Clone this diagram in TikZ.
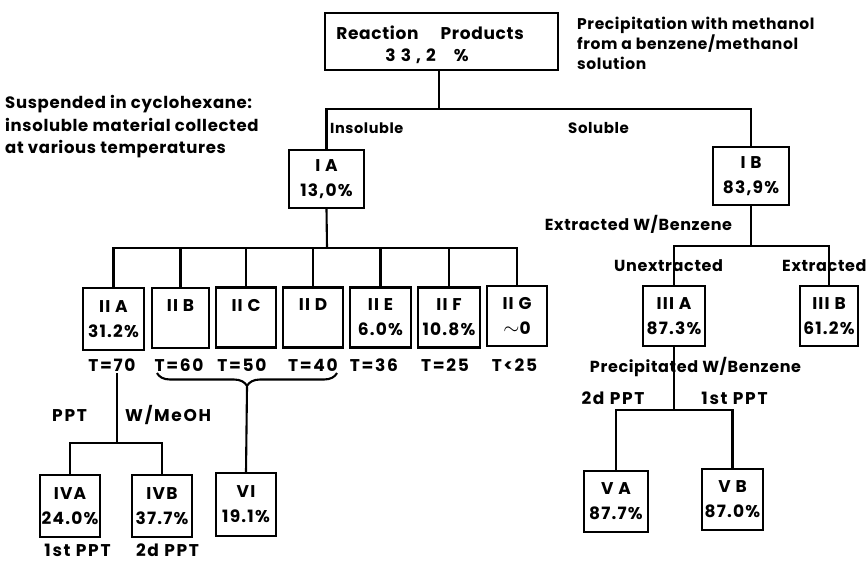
\documentclass[tikz,border=0pt]{standalone}
\usepackage{fontspec}
\setmainfont{Poppins}[LetterSpace=4]
\usetikzlibrary{decorations.pathreplacing}
\begin{document}
\begin{tikzpicture}[x=1pt,y=-1pt,
  wire/.style={line width=2.1pt},
  box/.style={draw, line width=2.1pt, minimum width=60pt, minimum height=60pt, align=center, inner sep=0pt, font=\bfseries\fontsize{17}{25}\selectfont\addfontfeature{LetterSpace=7}},
  lbl/.style={inner sep=0pt, text height=12pt, text depth=0pt, font=\bfseries\fontsize{16}{20}\selectfont},
  llbl/.style={lbl, anchor=west},
  wlbl/.style={lbl, font=\bfseries\fontsize{17}{20}\selectfont\addfontfeature{LetterSpace=10}},
  note/.style={llbl, font=\bfseries\fontsize{16.5}{20}\selectfont},
  rnote/.style={llbl, font=\bfseries\fontsize{15.5}{20}\selectfont}
]
\useasboundingbox (0,0) rectangle (866,562);

% top
\node[box, minimum width=233pt, minimum height=57pt] (rp) at (441.5,41.5) {};
\node[lbl, font=\bfseries\fontsize{17}{20}\selectfont] (rpt1) at (430,33) {Reaction\hspace{22pt}Products};
\node[lbl, font=\bfseries\fontsize{17}{20}\selectfont\addfontfeature{LetterSpace=30}] (rpt2) at (427,55) {33,2\hspace{18pt}\%};

\node[rnote] (n1) at (577,23) {Precipitation with methanol};
\node[rnote] (n2) at (577,43) {from a benzene/methanol};
\node[rnote] (n3) at (577,63) {solution};

\node[note] (s1) at (5,102) {Suspended in cyclohexane:};
\node[note] (s2) at (5,125) {insoluble material collected};
\node[note] (s3) at (5,147) {at various temperatures};

\node[llbl, font=\bfseries\fontsize{14.5}{20}\selectfont] (ins) at (330,127) {Insoluble};
\node[llbl, font=\bfseries\fontsize{15}{20}\selectfont] (sol) at (568,127) {Soluble};

\node[box, minimum width=75pt, minimum height=58pt] (IA) at (326.5,179) {I A\\13,0\%};
\node[box, minimum width=76pt, minimum height=58pt] (IB) at (751,176) {I B\\83,9\%};

\coordinate (j0) at (439,109);
\draw[wire] (rp.south -| j0) -- (j0);
\draw[wire] (IA.north) -- (IA.north |- j0) -- (IB.north |- j0) -- (IB.north);

% second level (left)
\node[box, minimum width=61pt, minimum height=62pt] (IIA) at (113.5,319) {II A\\31.2\%};
\node[box, minimum width=57pt] (IIB) at (180.5,318) {II B\\\phantom{0}};
\node[box] (IIC) at (246,317.5) {II C\\\phantom{0}};
\node[box] (IID) at (313,317.5) {II D\\\phantom{0}};
\node[box, minimum width=61pt] (IIE) at (380.5,317.5) {II E\\6.0\%};
\node[box, minimum width=62pt] (IIF) at (449,317.5) {II F\\10.8\%};
\node[box] (IIG) at (517,316) {II G\\{\fontsize{22}{22}\selectfont$\sim$}0};

\coordinate (j1) at (327,248);
\draw[wire] (IA.south) -- (j1);
\draw[wire] (IIA.north) -- (IIA.north |- j1) -- (IIG.north |- j1) -- (IIG.north);
\foreach \b in {IIB,IIC,IID,IIE,IIF} \draw[wire] (\b.north) -- (\b.north |- j1);

\node[wlbl] (t70) at (112,365) {T=70};
\node[wlbl] (t60) at (179,365) {T=60};
\node[wlbl] (t50) at (242,365) {T=50};
\node[wlbl] (t40) at (313,365) {T=40};
\node[wlbl] (t36) at (374,365) {T=36};
\node[wlbl] (t25) at (445,365) {T=25};
\node[wlbl] (tl25) at (514.5,365) {T<25};

% IIA branch
\coordinate (a0) at (117,373);
\coordinate (j4) at (117,443);
\draw[wire] (a0) -- (j4);
\node[wlbl, anchor=west] (ppt) at (52,415) {PPT};
\node[wlbl, anchor=west] (meoh) at (125,415) {W/MeOH};
\node[box, minimum height=62pt] (IVA) at (70,506) {IVA\\24.0\%};
\node[box, minimum height=62pt] (IVB) at (162,506) {IVB\\37.7\%};
\draw[wire] (IVA.north) -- (IVA.north |- j4) -- (IVB.north |- j4) -- (IVB.north);
\node[wlbl] (p1) at (77.5,550) {1st PPT};
\node[wlbl] (p2) at (167.5,550) {2d PPT};

% brace
\draw[wire, decorate, decoration={brace, mirror, amplitude=13pt}] (157,373) -- (337,373);
\coordinate (bt) at (247,387);
\node[box, minimum height=63pt] (VI) at (246,504.5) {VI\\19.1\%};
\draw[wire] (bt) -- (VI.north);

% right side
\node[lbl] (ewb) at (638.5,224) {Extracted W/Benzene};
\node[box, minimum width=62pt] (IIIA) at (674,316) {III A\\87.3\%};
\node[box, minimum width=58pt] (IIIB) at (829,316) {III B\\61.2\%};
\coordinate (j2) at (751,246);
\draw[wire] (IB.south) -- (j2);
\draw[wire] (IIIA.north) -- (IIIA.north |- j2) -- (IIIB.north |- j2) -- (IIIB.north);
\node[llbl] (unx) at (614,265) {Unextracted};
\node[llbl] (ext) at (782,265) {Extracted};

\node[lbl] (pwb) at (695.5,366) {Precipitated W/Benzene};
\node[wlbl] (d2) at (613,398) {2d PPT};
\node[wlbl] (s1st) at (734.5,398) {1st PPT};
\coordinate (j3) at (674,410);
\draw[wire] (IIIA.south) -- (j3);
\node[box, minimum width=64pt, minimum height=61pt] (VA) at (616,501.5) {V A\\87.7\%};
\node[box, minimum width=61pt, minimum height=61pt] (VB) at (732.5,499.5) {V B\\87.0\%};
\draw[wire] (VA.north) -- (VA.north |- j3) -- (VB.north |- j3) -- (VB.north);
\end{tikzpicture}
\end{document}
